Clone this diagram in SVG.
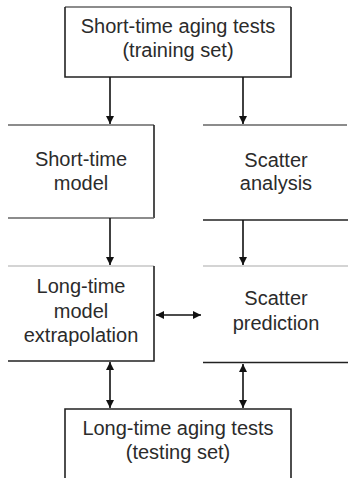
<svg xmlns="http://www.w3.org/2000/svg" width="348" height="484" viewBox="0 0 348 484">
<style>
.t{font-family:"Liberation Sans",Arial,sans-serif;font-size:20px;fill:#2b2b2b;text-anchor:middle}
.d{stroke:#222;stroke-width:1.6;fill:none}
.g{stroke:#666;stroke-width:1.4;fill:none}
.l{stroke:#aaa;stroke-width:1.2;fill:none}
.c{stroke:#111;stroke-width:1.6;fill:none}
</style>
<defs>
<marker id="ah" viewBox="0 0 10 10" refX="10" refY="5" markerWidth="5" markerHeight="5" orient="auto-start-reverse" markerUnits="strokeWidth">
<path d="M0,0 L10,5 L0,10 z" fill="#111"/>
</marker>
</defs>
<rect width="348" height="484" fill="#fff"/>
<g id="node-top">
<path class="g" d="M65,7 H291"/>
<path class="d" d="M65,7 V77 H291 V7"/>
<text class="t" x="178" y="33">Short-time aging tests</text>
<text class="t" x="178" y="57">(training set)</text>
</g>
<g id="node-short-model">
<path class="g" d="M8,125 H154"/>
<path class="d" d="M154,125 V218"/>
<path class="g" d="M8,218 H154"/>
<text class="t" x="81" y="166">Short-time</text>
<text class="t" x="81" y="190">model</text>
</g>
<g id="node-scatter-analysis">
<path class="g" d="M203,125 H347"/>
<path class="d" d="M203,220 H348"/>
<text class="t" x="276" y="167">Scatter</text>
<text class="t" x="276" y="190">analysis</text>
</g>
<g id="node-long-model">
<path class="l" d="M8,266 H154"/>
<path class="d" d="M154,266 V361 H8"/>
<text class="t" x="81" y="293">Long-time</text>
<text class="t" x="81" y="318">model</text>
<text class="t" x="81" y="342">extrapolation</text>
</g>
<g id="node-scatter-prediction">
<path class="l" d="M203,266 H348"/>
<path class="d" d="M203,362.5 H348"/>
<text class="t" x="276" y="305">Scatter</text>
<text class="t" x="276" y="330">prediction</text>
</g>
<g id="node-bottom">
<path class="d" d="M65,478 V409 H291 V478"/>
<text class="t" x="178" y="435">Long-time aging tests</text>
<text class="t" x="178" y="459">(testing set)</text>
</g>
<g id="connectors">
<path class="c" d="M110,77 V124" marker-end="url(#ah)"/>
<path class="c" d="M243,77 V124" marker-end="url(#ah)"/>
<path class="c" d="M110,218 V265" marker-end="url(#ah)"/>
<path class="c" d="M243,220 V265" marker-end="url(#ah)"/>
<path class="c" d="M156,315 H201" marker-start="url(#ah)" marker-end="url(#ah)"/>
<path class="c" d="M110,362 V408" marker-start="url(#ah)" marker-end="url(#ah)"/>
<path class="c" d="M243,364 V408" marker-start="url(#ah)" marker-end="url(#ah)"/>
</g>
</svg>
